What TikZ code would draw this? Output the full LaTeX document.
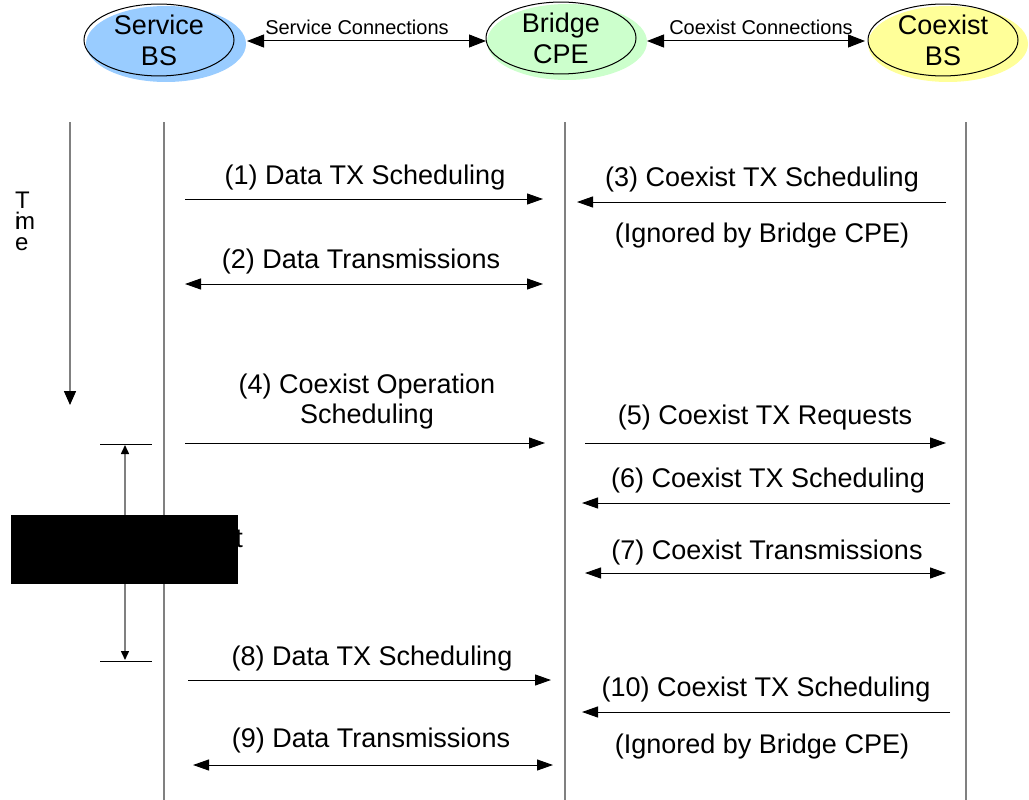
\documentclass[tikz,border=0pt]{standalone}
\usepackage{fontspec}
\setmainfont{Liberation Sans}
\usetikzlibrary{arrows.meta,shapes.geometric}
\definecolor{svcblue}{HTML}{99CCFF}
\definecolor{brgreen}{HTML}{CCFFCC}
\definecolor{coyellow}{HTML}{FFFF99}
\definecolor{lifegray}{HTML}{808080}
\tikzset{
  msgfont/.style={font=\fontsize{27}{30}\selectfont},
  topfont/.style={font=\fontsize{20}{22}\selectfont},
  entity/.style={ellipse, draw=black, line width=1pt, minimum width=150pt, minimum height=68pt, inner sep=0pt, align=center, font=\fontsize{27}{31}\selectfont},
  blob/.style={ellipse, minimum width=160pt, minimum height=76pt, inner sep=0pt},
  lifeline/.style={draw=lifegray, line width=1.5pt},
  msg/.style={draw=black, line width=1pt, -{Triangle[length=16pt,width=11pt]}},
  dmsg/.style={draw=black, line width=1pt, {Triangle[length=16pt,width=11pt]}-{Triangle[length=16pt,width=11pt]}},
  toparrow/.style={draw=black, line width=1pt, {Triangle[length=17pt,width=13pt]}-{Triangle[length=17pt,width=13pt]}},
}
\begin{document}
\begin{tikzpicture}[x=1pt,y=-1pt]
\useasboundingbox (0,0) rectangle (1029,800);
% entity backgrounds
\node[blob, fill=svcblue] (sbg) at (166,44) {};
\node[blob, fill=brgreen] (bbg) at (567,42) {};
\node[blob, fill=coyellow] (cbg) at (948,44) {};
% entities
\node[entity] (sbs) at (159,40) {Service\\BS};
\node[entity] (cpe) at (561,38) {Bridge\\CPE};
\node[entity] (cbs) at (943,40) {Coexist\\BS};
% top connections
\coordinate (s1) at (247,41); \coordinate (s2) at (486,41);
\coordinate (c1) at (647,41); \coordinate (c2) at (865,41);
\draw[toparrow] (s1) -- (s2);
\draw[toparrow] (c1) -- (c2);
\node[topfont] (sconn) at (357,27) {Service Connections};
\node[topfont] (cconn) at (761,27) {Coexist Connections};
% lifelines
\coordinate (ls0) at (164,122); \coordinate (ls1) at (164,800);
\coordinate (lb0) at (565,122); \coordinate (lb1) at (565,800);
\coordinate (lc0) at (966,122); \coordinate (lc1) at (966,800);
\draw[lifeline] (ls0) -- (ls1);
\draw[lifeline] (lb0) -- (lb1);
\draw[lifeline] (lc0) -- (lc1);
% time axis
\coordinate (t0) at (70,122); \coordinate (t1) at (70,405);
\draw[draw=lifegray, line width=1.5pt, -{Triangle[length=14pt,width=12pt,fill=black,color=black]}] (t0) -- (t1);
\node[font=\fontsize{24}{21}\selectfont, align=left, anchor=north west, inner sep=0pt] (time) at (15,192) {T\\i\\[-21pt]m\\e};
% messages
\coordinate (m1a) at (185,199); \coordinate (m1b) at (543,199);
\draw[msg] (m1a) -- (m1b);
\node[msgfont] (l1) at (365,178) {(1) Data TX Scheduling};
\coordinate (m2a) at (185,284); \coordinate (m2b) at (543,284);
\draw[dmsg] (m2a) -- (m2b);
\node[msgfont] (l2) at (361,262) {(2) Data Transmissions};
\coordinate (m3a) at (946,202); \coordinate (m3b) at (577,202);
\draw[msg] (m3a) -- (m3b);
\node[msgfont] (l3) at (762,180) {(3) Coexist TX Scheduling};
\node[msgfont] (l3b) at (762,236) {(Ignored by Bridge CPE)};
\coordinate (m4a) at (185,443); \coordinate (m4b) at (545,443);
\draw[msg] (m4a) -- (m4b);
\node[msgfont, align=center] (l4) at (367,402) {(4) Coexist Operation\\Scheduling};
\coordinate (m5a) at (585,443); \coordinate (m5b) at (946,443);
\draw[msg] (m5a) -- (m5b);
\node[msgfont] (l5) at (765,418) {(5) Coexist TX Requests};
\coordinate (m6a) at (950,503); \coordinate (m6b) at (582,503);
\draw[msg] (m6a) -- (m6b);
\node[msgfont] (l6) at (768,481) {(6) Coexist TX Scheduling};
\coordinate (m7a) at (585,573); \coordinate (m7b) at (946,573);
\draw[dmsg] (m7a) -- (m7b);
\node[msgfont] (l7) at (767,553) {(7) Coexist Transmissions};
\coordinate (m8a) at (188,680); \coordinate (m8b) at (551,680);
\draw[msg] (m8a) -- (m8b);
\node[msgfont] (l8) at (372,659) {(8) Data TX Scheduling};
\coordinate (m9a) at (193,765); \coordinate (m9b) at (553,765);
\draw[dmsg] (m9a) -- (m9b);
\node[msgfont] (l9) at (371,741) {(9) Data Transmissions};
\coordinate (m10a) at (950,712); \coordinate (m10b) at (582,712);
\draw[msg] (m10a) -- (m10b);
\node[msgfont] (l10) at (766,690) {(10) Coexist TX Scheduling};
\node[msgfont] (l10b) at (762,747) {(Ignored by Bridge CPE)};
% interval marker
\coordinate (k1a) at (100,444); \coordinate (k1b) at (152,444);
\coordinate (k2a) at (100,661); \coordinate (k2b) at (152,661);
\draw[black, line width=1pt] (k1a) -- (k1b);
\draw[black, line width=1pt] (k2a) -- (k2b);
\coordinate (d1) at (125,445); \coordinate (d2) at (125,660);
\draw[draw=lifegray, line width=1.5pt, {Triangle[length=9pt,width=8pt,fill=black,color=black]}-{Triangle[length=9pt,width=8pt,fill=black,color=black]}] (d1) -- (d2);
\node[msgfont, anchor=base east, inner sep=0pt] (tpart) at (243,547) {t};
\fill[black] (11,515) rectangle (238,584);
\end{tikzpicture}
\end{document}
